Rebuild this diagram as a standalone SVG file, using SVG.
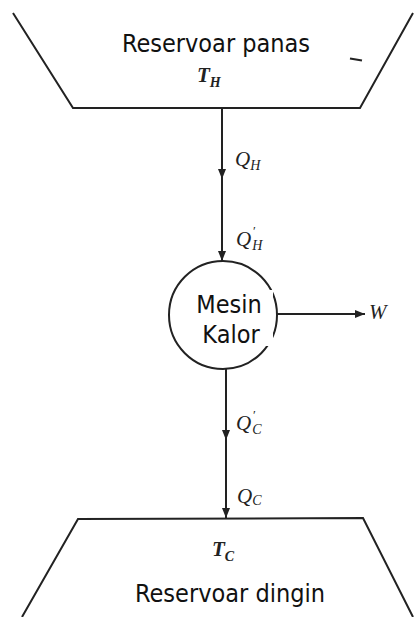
<svg xmlns="http://www.w3.org/2000/svg" width="414" height="617" viewBox="0 0 414 617">
<defs>
<marker id="ah" viewBox="0 0 10 8" refX="10" refY="4" markerWidth="11" markerHeight="8" markerUnits="userSpaceOnUse" orient="auto">
<path d="M0,0 L10,4 L0,8 Z" fill="#222"/>
</marker>
</defs>
<style>
.ln{stroke:#222;stroke-width:2;fill:none}
.lbl{font-family:"DejaVu Sans Condensed","DejaVu Sans",sans-serif;font-stretch:condensed;font-size:25px;fill:#111}
.m{font-family:"Liberation Serif",serif;font-style:italic;font-size:21px;fill:#222}
.s{font-size:14px}
.p{font-family:"Liberation Serif",serif;font-size:13px;fill:#222}
</style>
<rect width="414" height="617" fill="#fff"/>
<g id="reservoir-hot">
<path class="ln" d="M13,13 L73,108 L360,108 L413,13"/>
<line x1="350" y1="58.5" x2="362" y2="60.5" stroke="#222" stroke-width="2.2"/>
<text class="lbl" x="216" y="52" text-anchor="middle">Reservoar panas</text>
<text class="m" x="197" y="82" font-weight="bold" font-size="19">T<tspan class="s" dy="5">H</tspan></text>
</g>
<g id="engine">
<circle class="ln" cx="223" cy="315" r="54"/>
<rect x="198" y="290" width="75" height="56" fill="#fff"/>
<text class="lbl" x="229" y="313" text-anchor="middle">Mesin</text>
<text class="lbl" x="231" y="343" text-anchor="middle">Kalor</text>
</g>
<g id="reservoir-cold">
<path class="ln" d="M22,617 L78,519 L363,518 L413,617"/>
<text class="m" x="212" y="556" font-weight="bold" font-size="19">T<tspan class="s" dy="5">C</tspan></text>
<text class="lbl" x="230" y="602" text-anchor="middle">Reservoar dingin</text>
</g>
<g id="connectors">
<line class="ln" x1="222" y1="109" x2="222" y2="179" marker-end="url(#ah)"/>
<line class="ln" x1="222" y1="176" x2="222" y2="261" marker-end="url(#ah)"/>
<line class="ln" x1="277" y1="314" x2="365" y2="314" marker-end="url(#ah)"/>
<line class="ln" x1="226" y1="369" x2="226" y2="440" marker-end="url(#ah)"/>
<line class="ln" x1="226" y1="437" x2="226" y2="518" marker-end="url(#ah)"/>
<text class="m" x="235" y="166">Q<tspan class="s" dy="4">H</tspan></text>
<text class="m" x="236" y="246">Q<tspan class="s" dx="1" dy="4">H</tspan></text>
<text class="p" x="253" y="235">′</text>
<text class="m" x="369" y="319">W</text>
<text class="m" x="236" y="430">Q<tspan class="s" dx="1" dy="4">C</tspan></text>
<text class="p" x="253" y="419">′</text>
<text class="m" x="237" y="503">Q<tspan class="s" dy="2">C</tspan></text>
</g>
</svg>
